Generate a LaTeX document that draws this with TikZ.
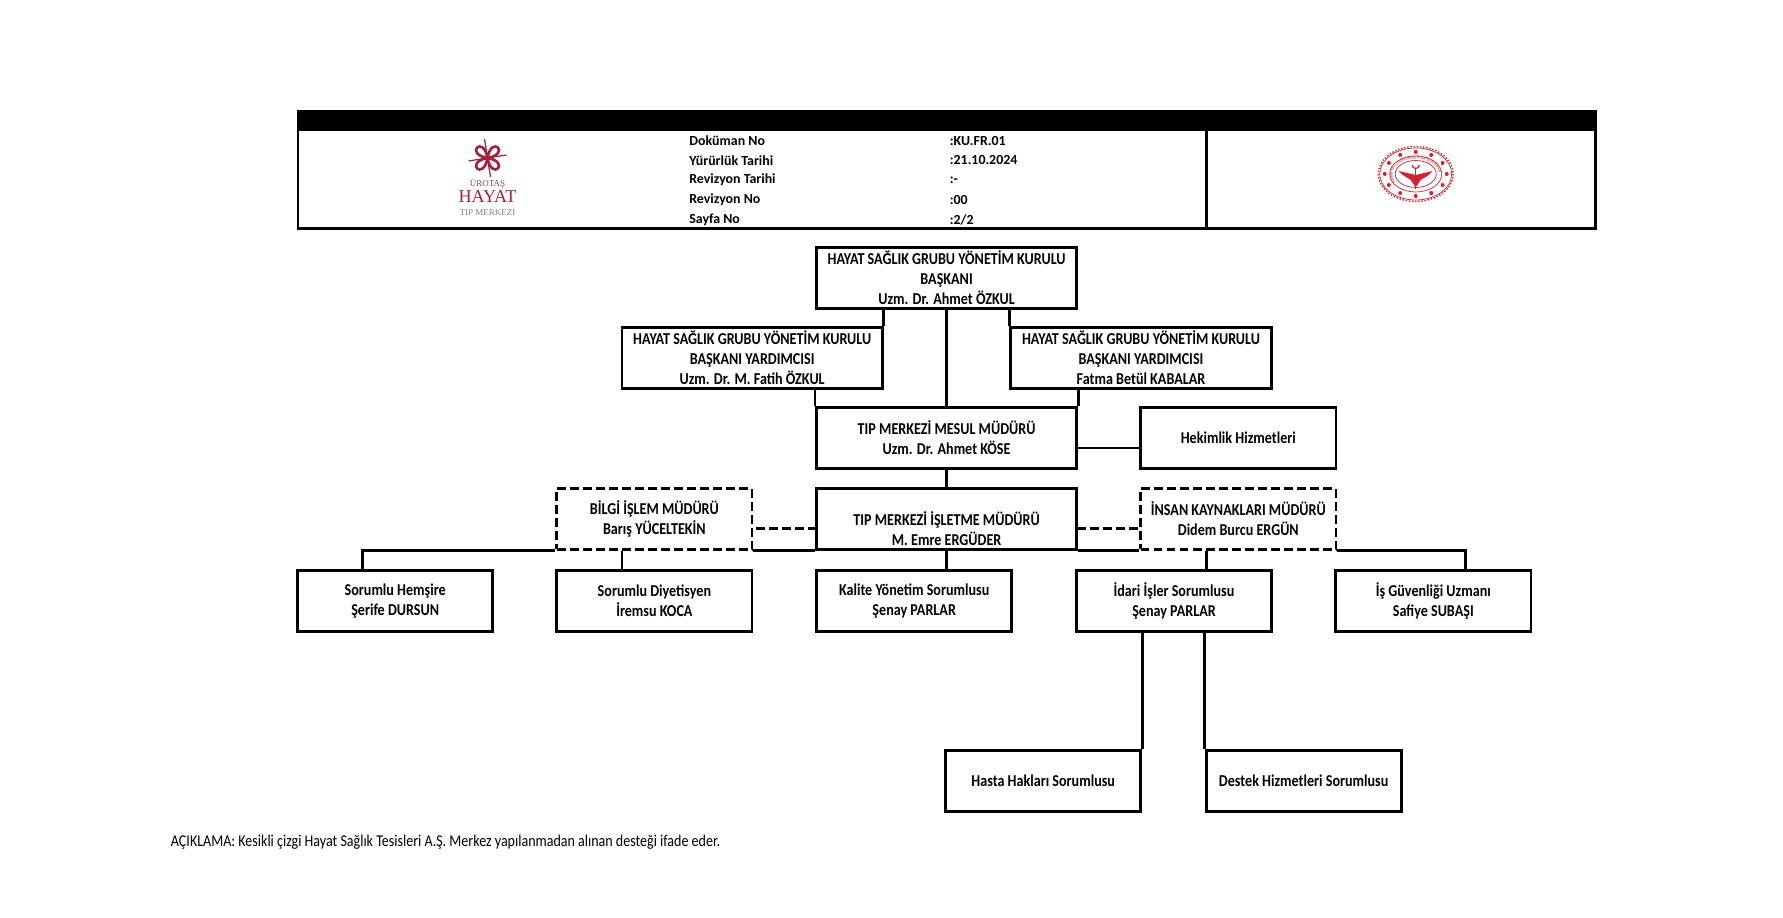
\documentclass[tikz,border=0pt]{standalone}
\usepackage{fontspec}
\setmainfont{Carlito}
\newfontfamily\narrowfont[FakeStretch=0.85]{Carlito}
\newfontfamily\logofont{Liberation Serif}
\usetikzlibrary{calc, decorations.text}

\definecolor{logored}{HTML}{A3203A}
\definecolor{sealred}{HTML}{D2232F}

\tikzset{
  link/.style={-, line width=1.6pt, color=black},
  dashlink/.style={link, dash pattern=on 5pt off 2.4pt},
  orgbox/.style={draw, line width=1.6pt, align=center, inner sep=0pt, minimum height=61*0.02cm, font=\narrowfont\bfseries\fontsize{9.45}{11.34}\selectfont},
  widebox/.style={orgbox, minimum width=260.3*0.02cm},
  narrowbox/.style={orgbox, minimum width=195.2*0.02cm},
  dashbox/.style={narrowbox, dash pattern=on 5pt off 2.4pt},
  cellbox/.style={draw, line width=1.6pt, inner sep=0pt},
  headtext/.style={anchor=west, inner sep=0pt, font=\bfseries\fontsize{7.9}{10}\selectfont},
  logotext/.style={inner sep=0pt, color=logored, font=\logofont},
}

\begin{document}
\begin{tikzpicture}[x=0.02cm, y=-0.02cm]

\path[use as bounding box] (0, 0) rectangle (1783, 918);

% header
\node[cellbox, fill=black, minimum width=1297.4*0.02cm, minimum height=18.2*0.02cm] (header bar) at (946.7, 120.5) {};
\node[cellbox, minimum width=908.5*0.02cm, minimum height=99*0.02cm] (left cell) at (752.2, 179.1) {};
\node[cellbox, minimum width=388.9*0.02cm, minimum height=99*0.02cm] (right cell) at (1401, 179.1) {};

\node[headtext] (doc label) at (689, 141) {Doküman No};
\node[headtext] (doc value) at (949.5, 141) {:KU.FR.01};
\node[headtext] (start label) at (689, 160.5) {Yürürlük Tarihi};
\node[headtext] (start value) at (949.5, 160.5) {:21.10.2024};
\node[headtext] (rev date label) at (689, 180) {Revizyon Tarihi};
\node[headtext] (rev date value) at (949.5, 180) {:-};
\node[headtext] (rev label) at (689, 199.8) {Revizyon No};
\node[headtext] (rev value) at (949.5, 199.8) {:00};
\node[headtext] (page label) at (689, 219.5) {Sayfa No};
\node[headtext] (page value) at (949.5, 219.5) {:2/2};

% hospital logo
\coordinate (logo center) at (487.5, 158);
\draw[logored, line width=1.5pt] (logo center) .. controls +(10:24) and +(80:24) .. (logo center);
\draw[logored, line width=1.5pt] (logo center) .. controls +(100:24) and +(170:24) .. (logo center);
\draw[logored, line width=1.5pt] (logo center) .. controls +(190:24) and +(260:24) .. (logo center);
\draw[logored, line width=1.5pt] (logo center) .. controls +(280:24) and +(350:24) .. (logo center);
\draw[logored, line width=0.7pt] ($(logo center)+(-19, 3)$) -- ($(logo center)+(19, -3)$) {};
\draw[logored, line width=0.7pt] ($(logo center)+(-3, -19)$) -- ($(logo center)+(3, 19)$) {};
\node[logotext, text=logored!70!gray, font=\logofont\fontsize{5.1}{6}\selectfont] (logo top) at (487.5, 183.5) {ÜROTAŞ};
\node[logotext, font=\logofont\fontsize{10.3}{12}\selectfont] (logo name) at (487.5, 197) {HAYAT};
\node[logotext, text=gray, font=\logofont\fontsize{5.1}{6}\selectfont] (logo bottom) at (487.5, 211.5) {TIP MERKEZİ};

% ministry seal
\coordinate (seal center) at (1415.7, 174);
\draw[sealred, line width=0.8pt, densely dotted] (seal center) ellipse [x radius=37.5, y radius=27.5];
\draw[sealred, line width=0.4pt] (seal center) ellipse [x radius=36, y radius=26];
\draw[sealred, line width=0.4pt] (seal center) ellipse [x radius=26, y radius=18];
\draw[sealred, line width=0.4pt] (seal center) ellipse [x radius=20.5, y radius=13.5];
\fill[sealred] (seal center)
  ++(0:31) circle (2) ++(-31, 0)
  ++(30:31 and 22) circle (2) ++(210:31 and 22)
  ++(60:31 and 22) circle (2) ++(240:31 and 22)
  ++(90:31 and 22) circle (2) ++(270:31 and 22)
  ++(120:31 and 22) circle (2) ++(300:31 and 22)
  ++(150:31 and 22) circle (2) ++(330:31 and 22)
  ++(180:31 and 22) circle (2) ++(0:31 and 22)
  ++(210:31 and 22) circle (2) ++(30:31 and 22)
  ++(240:31 and 22) circle (2) ++(60:31 and 22)
  ++(270:31 and 22) circle (2) ++(90:31 and 22)
  ++(300:31 and 22) circle (2) ++(120:31 and 22)
  ++(330:31 and 22) circle (2);
\path[decorate, decoration={text along path, text align=center, text={|\fontsize{2.6}{3}\selectfont\color{sealred}|TÜRKİYE CUMHURİYETİ SAĞLIK BAKANLIĞI}}] ($(seal center)+(-23, 0)$) arc [start angle=180, end angle=360, x radius=23, y radius=15];
\fill[sealred] ($(seal center)+(0, 1)$) -- ($(seal center)+(-17, -3)$) -- ($(seal center)+(-13, 1)$) -- ($(seal center)+(-5, 6)$) -- ($(seal center)+(-1, 12)$) -- ($(seal center)+(1, 12)$) -- ($(seal center)+(5, 6)$) -- ($(seal center)+(13, 1)$) -- ($(seal center)+(17, -3)$) -- cycle;
\draw[sealred, line width=0.8pt] ($(seal center)+(0, -5)$) -- ($(seal center)+(0, 15)$) {};
\draw[sealred, line width=0.7pt] ($(seal center)+(-3.5, -9)$) arc [start angle=180, end angle=0, radius=3.5];

% top of the chart
\node[widebox] (chair) at (946.6, 278) {HAYAT SAĞLIK GRUBU YÖNETİM KURULU\\BAŞKANI\\Uzm. Dr. Ahmet ÖZKUL};
\node[widebox] (left vice) at (752.2, 357.6) {HAYAT SAĞLIK GRUBU YÖNETİM KURULU\\BAŞKANI YARDIMCISI\\Uzm. Dr. M. Fatih ÖZKUL};
\node[widebox] (right vice) at (1141, 357.6) {HAYAT SAĞLIK GRUBU YÖNETİM KURULU\\BAŞKANI YARDIMCISI\\Fatma Betül KABALAR};
\node[widebox] (mesul) at (946.6, 437.7) {TIP MERKEZİ MESUL MÜDÜRÜ\\Uzm. Dr. Ahmet KÖSE};
\node[narrowbox] (hekimlik) at (1238.3, 437.7) {Hekimlik Hizmetleri};

\draw[link] (left vice.north east) -- (left vice.north east |- chair.south) {};
\draw[link] (right vice.north west) -- (right vice.north west |- chair.south) {};
\draw[link] (chair.south) -- (mesul.north) {};
\draw[link] (mesul.north west) -- (mesul.north west |- left vice.south) {};
\draw[link] (mesul.north east) -- (mesul.north east |- right vice.south) {};
\coordinate (mesul side) at (1076.8, 448);
\draw[link] (mesul side) -- (mesul side -| hekimlik.west) {};

% managers
\node[widebox] (isletme) at (946.6, 519) {\strut\\TIP MERKEZİ İŞLETME MÜDÜRÜ\\M. Emre ERGÜDER};
\node[dashbox] (bilgi) at (654.4, 519) {BİLGİ İŞLEM MÜDÜRÜ\\Barış YÜCELTEKİN};
\node[dashbox] (insan) at (1238.3, 519) {İNSAN KAYNAKLARI MÜDÜRÜ\\Didem Burcu ERGÜN};

\draw[link] (mesul.south) -- (isletme.north) {};
\coordinate (isletme left) at (816.5, 528.8);
\coordinate (isletme right) at (1076.8, 528.8);
\draw[dashlink] (isletme left) -- (isletme left -| bilgi.east) {};
\draw[dashlink] (isletme right) -- (isletme right -| insan.west) {};

% row of staff
\node[narrowbox] (hemsire) at (395.2, 601) {Sorumlu Hemşire\\Şerife DURSUN};
\node[narrowbox] (diyetisyen) at (654.4, 601) {Sorumlu Diyetisyen\\İremsu KOCA};
\node[narrowbox] (kalite) at (914.2, 601) {Kalite Yönetim Sorumlusu\\Şenay PARLAR};
\node[narrowbox] (idari) at (1174, 601) {İdari İşler Sorumlusu\\Şenay PARLAR};
\node[narrowbox] (guvenlik) at (1433.3, 601) {İş Güvenliği Uzmanı\\Safiye SUBAŞI};

\coordinate (hemsire top) at (362.7, 570);
\coordinate (diyetisyen top) at (622, 570);
\coordinate (idari top) at (1206.5, 570);
\coordinate (guvenlik top) at (1465.7, 570);

\draw[link] (bilgi.south west) -| (hemsire top) {};
\draw[link] (diyetisyen top) -- (diyetisyen top |- bilgi.south) {};
\draw[link] (bilgi.south east) -- (isletme.south west) {};
\draw[link] (isletme.south) -- (isletme.south |- kalite.north) {};
\draw[link] (isletme.south east) -- (insan.south west) {};
\draw[link] (idari top) -- (idari top |- insan.south) {};
\draw[link] (insan.south east) -| (guvenlik top) {};

% bottom boxes
\node[narrowbox] (hasta) at (1043.2, 780.6) {Hasta Hakları Sorumlusu};
\node[narrowbox] (destek) at (1303.7, 780.6) {Destek Hizmetleri Sorumlusu};

\draw[link] (hasta.north east) -- (hasta.north east |- idari.south) {};
\draw[link] (destek.north west) -- (destek.north west |- idari.south) {};

\node[anchor=west, inner sep=0pt, font=\narrowfont\fontsize{9.4}{12}\selectfont] (note) at (170.6, 842.6) {AÇIKLAMA: Kesikli çizgi Hayat Sağlık Tesisleri A.Ş. Merkez yapılanmadan alınan desteği ifade eder.};
\end{tikzpicture}
\end{document}
